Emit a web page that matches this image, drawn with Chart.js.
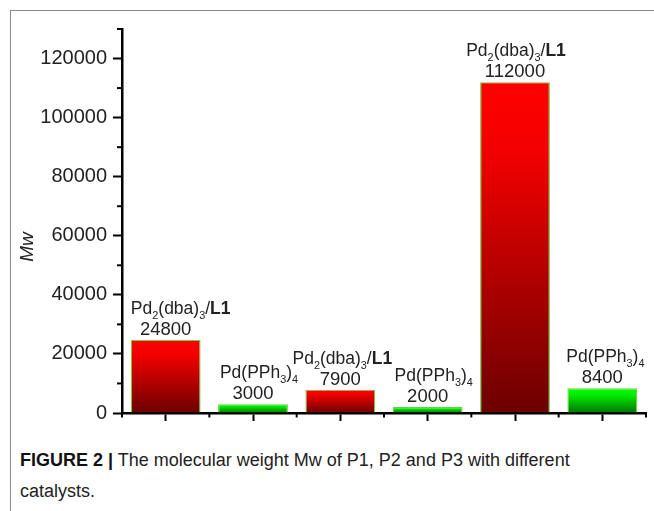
<!DOCTYPE html>
<html>
<head>
<meta charset="utf-8">
<script src="https://cdn.jsdelivr.net/npm/chart.js@4.4.1/dist/chart.umd.min.js"></script>
<style>
  html, body { margin: 0; padding: 0; background: #fff; }
  body { width: 654px; height: 511px; position: relative; overflow: hidden; font-family: "Liberation Sans", Arial, sans-serif; }
  .frame { position: absolute; left: 10px; top: 10px; right: -2px; bottom: -2px; border-left: 1.5px solid #8a8a8a; border-top: 1.5px solid #8a8a8a; }
  .chart-box { position: absolute; left: 0; top: 0; width: 654px; height: 440px; }
  .caption { position: absolute; left: 20px; top: 445px; width: 562px; font-size: 18px; line-height: 31px; color: #222; }
  .caption b { color: #111; }
</style>
</head>
<body>
<div class="frame"></div>
<div class="chart-box"><canvas id="mwChart" width="654" height="440"></canvas></div>
<div class="caption"><b>FIGURE 2 |</b> The molecular weight Mw of P1, P2 and P3 with different catalysts.</div>

<script>
// catalyst used for each bar, in plotting order
const catalysts = ["dba", "pph3", "dba", "pph3", "dba", "pph3"];
const categories = ["Pd2(dba)3/L1", "Pd(PPh3)4", "Pd2(dba)3/L1", "Pd(PPh3)4", "Pd2(dba)3/L1", "Pd(PPh3)4"];
const mwValues = [24800, 3000, 7900, 2000, 112000, 8400];
const yTicks = [0, 20000, 40000, 60000, 80000, 100000, 120000];
const yMax = 130000;

// rich text pieces for the bar labels (t = text, sub = subscript, b = bold)
const labelParts = {
  dba: [{ t: "Pd" }, { t: "2", sub: true }, { t: "(dba)" }, { t: "3", sub: true }, { t: "/" }, { t: "L1", b: true }],
  pph3: [{ t: "Pd(PPh" }, { t: "3", sub: true }, { t: ")" }, { t: "4", sub: true }]
};

const FONT = '"Liberation Sans", Arial, sans-serif';

function barGradient(context) {
  const chart = context.chart;
  if (!chart.chartArea) return "#f00";
  const y = chart.scales.y;
  const top = y.getPixelForValue(context.raw);
  const bottom = y.getPixelForValue(0);
  const g = chart.ctx.createLinearGradient(0, top, 0, bottom);
  if (catalysts[context.dataIndex] === "dba") {
    g.addColorStop(0, "#ff0000");
    g.addColorStop(0.2, "#f40000");
    g.addColorStop(1, "#6c0000");
  } else {
    g.addColorStop(0, "#00ff00");
    g.addColorStop(0.25, "#00f000");
    g.addColorStop(1, "#007400");
  }
  return g;
}

function drawParts(ctx, parts, cx, baseline, size) {
  const subSize = size * 0.62;
  let total = 0;
  const widths = parts.map(p => {
    ctx.font = (p.b ? "bold " : "") + (p.sub ? subSize : size) + "px " + FONT;
    const w = ctx.measureText(p.t).width;
    total += w;
    return w;
  });
  let x = cx - total / 2;
  parts.forEach((p, i) => {
    ctx.font = (p.b ? "bold " : "") + (p.sub ? subSize : size) + "px " + FONT;
    ctx.fillText(p.t, x, p.sub ? baseline + size * 0.28 : baseline);
    x += widths[i];
  });
}

// minor ticks, bar labels and the y title
const decorPlugin = {
  id: "decor",
  afterDraw(chart, args, opts) {
    const { ctx, chartArea } = chart;
    const xs = chart.scales.x;
    const ys = chart.scales.y;
    ctx.save();
    ctx.strokeStyle = "#000";
    ctx.lineWidth = 2;

    // minor y ticks at odd multiples of 10000
    ys.ticks.forEach(t => {
      if (t.value % 20000 === 0) return;
      const py = ys.getPixelForValue(t.value);
      ctx.beginPath();
      ctx.moveTo(chartArea.left - 5, py);
      ctx.lineTo(chartArea.left, py);
      ctx.stroke();
    });

    // minor x ticks at category boundaries
    for (let i = 0; i <= categories.length; i++) {
      const px = xs.getPixelForValue(i - 0.5);
      ctx.beginPath();
      ctx.moveTo(px, chartArea.bottom);
      ctx.lineTo(px, chartArea.bottom + 4.5);
      ctx.stroke();
    }

    // labels over the bars
    ctx.fillStyle = "#222";
    ctx.textBaseline = "alphabetic";
    const meta = chart.getDatasetMeta(0);
    meta.data.forEach((bar, i) => {
      const topY = bar.y;
      ctx.textAlign = "center";
      ctx.font = opts.valueSize + "px " + FONT;
      ctx.fillText(String(mwValues[i]), bar.x, topY - 5);
      ctx.textAlign = "left";
      drawParts(ctx, labelParts[catalysts[i]], bar.x + (opts.nameShift[i] || 0), topY - 26, opts.size);
    });

    // y axis title
    ctx.translate(chartArea.left - 94, (chartArea.top + chartArea.bottom) / 2 + 26);
    ctx.rotate(-Math.PI / 2);
    ctx.textAlign = "center";
    ctx.textBaseline = "middle";
    ctx.font = "italic 19px " + FONT;
    ctx.fillText("Mw", 0, 0);
    ctx.restore();
  }
};

new Chart(document.getElementById("mwChart"), {
  type: "bar",
  data: {
    labels: categories,
    datasets: [
      {
        label: "Mw",
        data: mwValues,
        backgroundColor: barGradient,
        borderColor: "#6fd23a",
        borderWidth: 1.2,
        barPercentage: 0.8,
        categoryPercentage: 1
      }
    ]
  },
  options: {
    responsive: false,
    animation: false,
    layout: { padding: { left: 0, top: 29, right: 8, bottom: 17 } },
    plugins: {
      legend: { display: false },
      tooltip: { enabled: false },
      decor: { size: 17.5, valueSize: 18.5, nameShift: [15, 6, 2, 6, 1, 3] }
    },
    scales: {
      x: {
        offset: true,
        grid: { display: true, drawOnChartArea: false, offset: false, tickLength: 8, tickColor: "#000", tickWidth: 2 },
        border: { display: true, color: "#000", width: 2.5 },
        ticks: { display: false },
        afterFit(scale) { scale.height = 10; }
      },
      y: {
        min: 0,
        max: yMax,
        grid: {
          display: true,
          drawOnChartArea: false,
          tickLength: 9,
          tickWidth: 2,
          tickColor: ctx => (yTicks.includes(ctx.tick.value) ? "#000" : "rgba(0,0,0,0)")
        },
        border: { display: true, color: "#000", width: 2.5 },
        ticks: {
          stepSize: 10000,
          padding: 6,
          color: "#222",
          font: { family: FONT, size: 20 },
          callback: value => (yTicks.includes(value) ? String(value) : "")
        },
        afterFit(scale) { scale.width = 122; }
      }
    }
  },
  plugins: [decorPlugin]
});
</script>
</body>
</html>
